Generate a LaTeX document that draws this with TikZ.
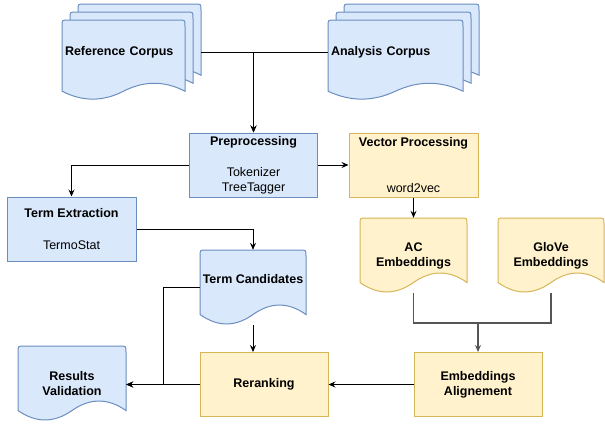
\documentclass[tikz,border=0pt]{standalone}
\usepackage{fontspec}
\setmainfont{Liberation Sans}
\usetikzlibrary{arrows.meta}

\definecolor{bluefill}{HTML}{DAE8FC}
\definecolor{blueline}{HTML}{6C8EBF}
\definecolor{yellowfill}{HTML}{FFF2CC}
\definecolor{yellowline}{HTML}{D6B656}
\definecolor{edgegray}{HTML}{555555}

\tikzset{
  bluebox/.style={draw=blueline,fill=bluefill,line width=1pt,minimum width=128pt,minimum height=64pt,inner sep=0pt,align=center},
  yellowbox/.style={bluebox,draw=yellowline,fill=yellowfill},
  bluedoc/.style={draw=blueline,fill=bluefill,line width=1pt},
  yellowdoc/.style={draw=yellowline,fill=yellowfill,line width=1pt},
  doctext/.style={inner sep=0pt,align=center,font=\fontsize{12.5}{15}\selectfont\bfseries,minimum height=75pt},
  link/.style={-{Stealth[length=7pt,width=6pt,inset=2.5pt]},line width=0.8pt},
}

% paper sheet with a wavy lower edge: x, y, width, height, wave size, style
\newcommand{\docshape}[6]{%
  \draw[#6] ({#1},{(#2)+(#4)-(#5)/2}) -- ({#1},{(#2)+6}) .. controls ({#1},{#2}) .. ({(#1)+6},{#2})
    -- ({(#1)+(#3)-6},{#2}) .. controls ({(#1)+(#3)},{#2}) .. ({(#1)+(#3)},{(#2)+6})
    -- ({(#1)+(#3)},{(#2)+(#4)-(#5)/2})
    .. controls ({(#1)+5*(#3)/6},{(#2)+(#4)-1.1*(#5)}) and ({(#1)+2*(#3)/3},{(#2)+(#4)-1.1*(#5)}) .. ({(#1)+(#3)/2},{(#2)+(#4)-(#5)/2})
    .. controls ({(#1)+(#3)/3},{(#2)+(#4)+0.1*(#5)}) and ({(#1)+(#3)/6},{(#2)+(#4)+0.1*(#5)}) .. ({#1},{(#2)+(#4)-(#5)/2}) -- cycle;}

% stack of three sheets
\newcommand{\multidoc}[4]{%
  \foreach \k in {2,1,0}
    {\docshape{(#1)+8*\k}{(#2)+8*(2-\k)}{(#3)-16}{(#4)-16}{0.22*((#4)-16)}{bluedoc}}}

\begin{document}
\begin{tikzpicture}[x=1pt,y=-1pt,font=\fontsize{12.5}{15}\selectfont]
\useasboundingbox (0,0) rectangle (605,423);

\multidoc{62}{4}{139}{96}
\multidoc{328}{4}{151}{96}
\docshape{200}{250}{106}{75}{21}{bluedoc}
\docshape{360}{218}{107}{75}{21}{yellowdoc}
\docshape{498}{218}{106}{75}{21}{yellowdoc}
\docshape{18}{346}{108}{75}{21}{bluedoc}

\node[doctext,minimum height=96pt,text width=133pt,align=left,inner xsep=3pt] (refc) at (131.5,52) {Reference Corpus};
\node[doctext,minimum height=96pt,text width=145pt,align=left,inner xsep=3pt] (anc) at (403.5,52) {Analysis Corpus};

\node[bluebox] (prep) at (253.5,165) {\textbf{Preprocessing}\\[16pt]Tokenizer\\TreeTagger};
\node[yellowbox,minimum width=129pt] (vec) at (413.5,165) {\textbf{Vector Processing}\\[31pt]word2vec};
\node[bluebox,minimum width=129pt] (termx) at (71.5,229) {\textbf{Term Extraction}\\[17pt]TermoStat};

\node[doctext,minimum width=106pt,text depth=17pt] (tc) at (253,287.5) {Term Candidates};
\node[doctext,minimum width=107pt] (ac) at (413.5,255.5) {AC\\Embeddings};
\node[doctext,minimum width=106pt] (glove) at (551,255.5) {GloVe\\Embeddings};

\node[yellowbox] (rerank) at (264,384.5) {\textbf{Reranking}};
\node[yellowbox] (align) at (478,384.5) {\textbf{Embeddings}\\\textbf{Alignement}};
\node[doctext,minimum width=108pt] (rv) at (72,383.5) {Results\\Validation};

\coordinate (join) at (478,323);
\coordinate (bend) at (163,287.5);

\draw[link] (refc.east) -| (prep.north);
\draw[link] (anc.west) -| (prep.north);
\draw[link] (prep.west) -| (termx.north);
\draw[link] (prep.east) -- (vec.west);
\draw[link] (termx.east) -| (tc.north);
\draw[link] (vec.south) -- (ac.north);
\draw[line width=1.3pt,edgegray] (ac.south) |- (join) -| (glove.south);
\draw[link,line width=1.3pt,edgegray] (join) -- (align.north);
\draw[link] (tc.south) -- (tc.south |- rerank.north);
\draw[link] (align.west) -- (rerank.east);
\draw[link] (rerank.west) -- (rerank.west -| rv.east);
\draw[link] (tc.west) -- (bend) |- (rerank.west -| rv.east);
\end{tikzpicture}
\end{document}
